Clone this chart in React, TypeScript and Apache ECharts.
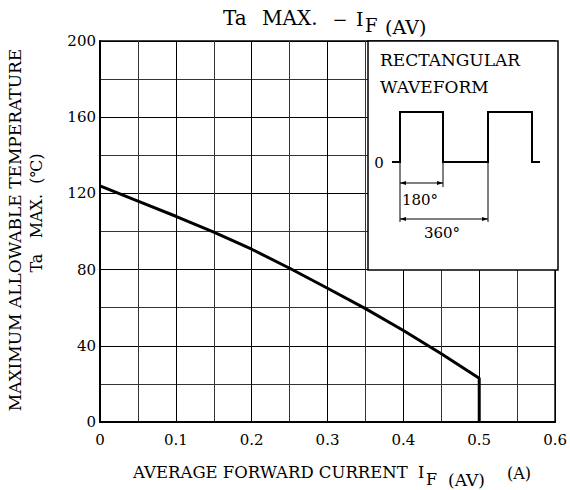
import React, { useEffect, useRef } from "react";
import * as echarts from "echarts";

const currentA = [0, 0.05, 0.1, 0.15, 0.2, 0.25, 0.3, 0.35, 0.4, 0.45, 0.5, 0.5];
const tempC = [124, 116, 108, 99.7, 90.7, 80.7, 70.2, 59.5, 48, 35.8, 23, 0];
const xMin = 0, xMax = 0.6, xStep = 0.05;
const yMin = 0, yMax = 200, yStep = 20;

const FONT = "DejaVu Serif";

export default function App() {
  const ref = useRef<HTMLDivElement>(null);
  useEffect(() => {
    if (!ref.current) return;
    const chart = echarts.init(ref.current, undefined, { renderer: "svg" });
    const data = currentA.map((x, i) => [x, tempC[i]]);
    const txt = (text: string, x: number, y: number, size: number, align = "left", extra: any = {}) => ({
      type: "text", x, y, z: 110, ...extra,
      style: { text, fill: "#000", fontSize: size, fontFamily: FONT, align, verticalAlign: "middle" },
    });
    const line = (x1: number, y1: number, x2: number, y2: number, w = 1) => ({
      type: "line", z: 110, shape: { x1, y1, x2, y2 }, style: { stroke: "#000", lineWidth: w },
    });
    const arrow = (x: number, y: number, dir: number) => ({
      type: "polygon", z: 110,
      shape: { points: [[x, y], [x + dir * 6, y - 2], [x + dir * 6, y + 2]] },
      style: { fill: "#000" },
    });
    chart.setOption({
      animation: false,
      backgroundColor: "#fff",
      grid: { left: 100, right: 12, top: 41, bottom: 68, show: true, borderColor: "#000", borderWidth: 1.5, backgroundColor: "transparent" },
      xAxis: {
        type: "value", min: xMin, max: xMax, interval: xStep,
        axisLine: { show: true, lineStyle: { color: "#000", width: 2 } },
        axisTick: { show: false },
        axisLabel: {
          margin: 10, color: "#000", fontFamily: FONT, fontSize: 15,
          formatter: (v: number) => {
            const t = v * 10;
            if (Math.abs(t - Math.round(t)) > 1e-6) return "";
            return v === 0 ? "0" : v.toFixed(1);
          },
        },
        splitLine: { show: true, lineStyle: { color: ["#000", "#333"], width: 1 } },
      },
      yAxis: {
        type: "value", min: yMin, max: yMax, interval: yStep,
        axisLine: { show: true, lineStyle: { color: "#000", width: 2 } },
        axisTick: { show: false },
        axisLabel: {
          margin: 4, color: "#000", fontFamily: FONT, fontSize: 15,
          formatter: (v: number) => (v % 40 === 0 ? String(v) : ""),
        },
        splitLine: { show: true, lineStyle: { color: ["#000", "#333"], width: 1 } },
      },
      series: [
        {
          type: "line", data, showSymbol: false, symbol: "none",
          lineStyle: { color: "#000", width: 3 }, z: 5,
        },
      ],
      graphic: [
        // title
        txt("Ta", 223, 18, 20),
        txt("MAX.", 262, 18, 20),
        txt("−", 340, 19, 18, "center"),
        txt("I", 356, 19, 19),
        txt("F", 365, 25, 18),
        txt("(AV)", 385, 27, 19),
        // y axis name
        txt("MAXIMUM ALLOWABLE TEMPERATURE", 15, 230, 17, "center", { rotation: Math.PI / 2 }),
        txt("Ta   MAX.  (℃)", 36, 213, 16, "center", { rotation: Math.PI / 2 }),
        // x axis name
        txt("AVERAGE FORWARD CURRENT", 133, 472, 16.5),
        txt("I", 418, 472, 16),
        txt("F", 426, 479, 16),
        txt("(AV)", 448, 480, 17),
        txt("(A)", 507, 473, 16),
        // inset box
        {
          type: "rect", z: 100,
          shape: { x: 368, y: 41, width: 190, height: 229 },
          style: { fill: "#fff", stroke: "#000", lineWidth: 1.5 },
        },
        txt("RECTANGULAR", 380, 60, 17),
        txt("WAVEFORM", 380, 87, 17),
        txt("0", 379, 163, 15, "center"),
        {
          type: "polyline", z: 110,
          shape: {
            points: [[392, 162], [400, 162], [400, 112], [443, 112], [443, 162], [488, 162], [488, 112], [532, 112], [532, 162], [540, 162]],
          },
          style: { stroke: "#000", lineWidth: 2, fill: null },
        },
        line(400, 162, 400, 222),
        line(443, 162, 443, 187),
        line(488, 162, 488, 222),
        line(400, 183, 443, 183),
        arrow(400, 183, 1),
        arrow(443, 183, -1),
        line(400, 219, 488, 219),
        arrow(400, 219, 1),
        arrow(488, 219, -1),
        txt("180°", 420, 200, 15, "center"),
        txt("360°", 442, 233, 15, "center"),
      ],
    });
    return () => chart.dispose();
  }, []);
  return <div ref={ref} style={{ width: 570, height: 490, position: "absolute", left: 0, top: 0 }} />;
}
